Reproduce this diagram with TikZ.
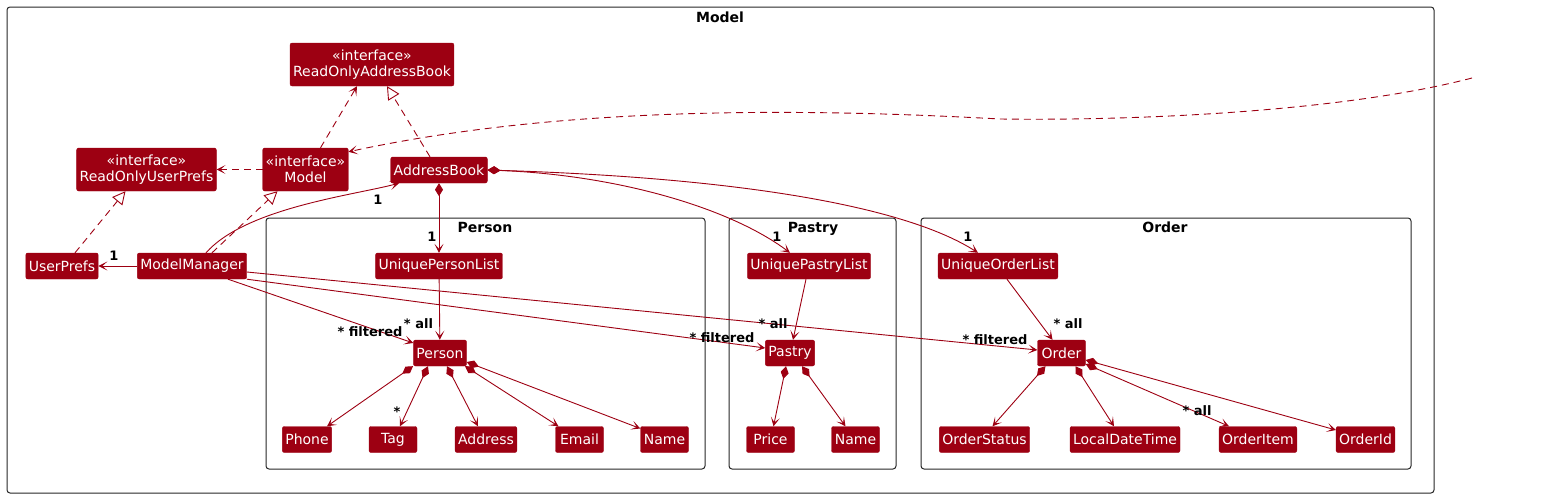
\documentclass[tikz,border=0pt]{standalone}
\usepackage{fontspec}
\setmainfont{DejaVu Sans}
\usetikzlibrary{arrows.meta}
\definecolor{modelred}{HTML}{9D0012}

\begin{document}
\begin{tikzpicture}[x=1pt,y=-1pt,>={Stealth[length=9pt,width=9pt,inset=5pt]},
    cls/.style={fill=modelred,draw=modelred,rounded corners=2pt,text=white,align=center,
        font=\fontsize{14}{16.5}\selectfont,inner xsep=3pt,inner ysep=0pt,minimum height=26pt,minimum width=48pt},
    iface/.style={cls,minimum height=43pt},
    pkg/.style={draw=black!85,rounded corners=3pt,line width=1pt},
    ttl/.style={font=\fontsize{14}{16}\selectfont\bfseries,anchor=base,inner sep=0pt},
    lbl/.style={font=\fontsize{13}{15}\selectfont\bfseries,anchor=base,inner sep=0pt},
    assoc/.style={draw=modelred,line width=0.9pt,->},
    comp/.style={assoc,{Diamond[length=13pt,width=8pt]}->},
    dep/.style={assoc,dash pattern=on 7pt off 5pt},
    real/.style={draw=modelred,line width=0.9pt,dash pattern=on 7pt off 5pt,-{Triangle[open,length=13pt,width=13pt,fill=white]}}]
    \useasboundingbox (0,0) rectangle (1567,498);

    % packages
    \draw[pkg] (7,7) rectangle (1434,493);
    \node[ttl] (tmodel) at (720,22.5) {Model};
    \draw[pkg] (266,218) rectangle (705,469);
    \node[ttl] (tperson) at (485,232) {Person};
    \draw[pkg] (729,218) rectangle (896,469);
    \node[ttl] (tpastry) at (813,232) {Pastry};
    \draw[pkg] (921,218) rectangle (1411,469);
    \node[ttl] (torder) at (1165,232) {Order};

    % classes
    \node[iface] (rouab) at (372,64.5) {«interface»\\ReadOnlyAddressBook};
    \node[iface] (roup) at (146.5,169.5) {«interface»\\ReadOnlyUserPrefs};
    \node[iface] (model) at (305.5,169.5) {«interface»\\Model};
    \node[cls] (ab) at (439,170) {AddressBook};
    \node[cls] (userprefs) at (62,266) {UserPrefs};
    \node[cls] (mm) at (192,266) {ModelManager};
    \node[cls] (upl) at (439,266) {UniquePersonList};
    \node[cls] (person) at (440,353) {Person};
    \node[cls] (uptl) at (809,266) {UniquePastryList};
    \node[cls] (pastry) at (790,353) {Pastry};
    \node[cls] (uol) at (998,266) {UniqueOrderList};
    \node[cls] (order) at (1061.5,353) {Order};
    \foreach \n/\x/\t in {phone/307/Phone,tag/393/Tag,address/486/Address,email/579.5/Email,
        pname/664.5/Name,price/770.5/Price,tname/855.5/Name,ostatus/984.5/OrderStatus,
        ldt/1125/LocalDateTime,oitem/1258/OrderItem,oid/1365.5/OrderId}{
        \node[cls] (\n) at (\x,439.5) {\t};
    }

    % interfaces
    \draw[dep] ([xshift=15pt]model.north) -- ([xshift=-15pt]rouab.south);
    \draw[real] ([xshift=-9pt]ab.north) -- ([xshift=15pt]rouab.south);
    \draw[dep] (model) -- (roup);
    \draw[real] ([xshift=13pt]userprefs.north) -- ([xshift=-21pt]roup.south);
    \draw[real] ([xshift=20pt]mm.north) -- ([xshift=-28pt]model.south);
    \coordinate (ext) at (1472,78);
    \draw[dep] (ext) .. controls (1350,110) and (1150,121) .. (1000,119)
        .. controls (800,108) and (560,106) .. ([yshift=-4pt]model.north east);

    % model manager
    \draw[assoc] (mm) -- (userprefs);
    \node[lbl] (m1) at (114,260.7) {1};
    \draw[assoc] ([xshift=14pt]mm.north) .. controls +(40,-45) and +(-45,12) .. ([xshift=-40pt]ab.south);
    \node[lbl] (m2) at (378,204) {1};
    \draw[assoc] ([xshift=36pt]mm.south) -- ([yshift=10pt]person.west);
    \node[lbl] (m3) at (370,336.7) {* filtered};
    \draw[assoc] (mm.south east) -- ([yshift=5pt]pastry.west);
    \node[lbl] (m4) at (722,342.7) {* filtered};
    \draw[assoc] ([yshift=-6pt]mm.east) -- ([yshift=3pt]order.west);
    \node[lbl] (m5) at (995,344) {* filtered};

    % address book
    \draw[comp] (ab) -- (upl);
    \node[lbl] (a1) at (432,241) {1};
    \draw[comp] (ab.east) .. controls +(130,5) and +(-60,-45) .. ([xshift=-19pt]uptl.north);
    \node[lbl] (a2) at (777,241) {1};
    \draw[comp] (ab.east) .. controls +(260,8) and +(-70,-45) .. ([xshift=-20pt]uol.north);
    \node[lbl] (a3) at (968,241) {1};

    % lists
    \draw[assoc] (upl) -- (person);
    \node[lbl] (l1) at (418.5,328) {* all};
    \draw[assoc] ([xshift=-3pt]uptl.south) -- ([xshift=3pt]pastry.north);
    \node[lbl] (l2) at (773,328) {* all};
    \draw[assoc] ([xshift=9pt]uol.south) -- ([xshift=-9pt]order.north);
    \node[lbl] (l3) at (1068,328) {* all};

    % fields
    \draw[comp] ([xshift=-27pt]person.south) -- ([xshift=20pt]phone.north);
    \draw[comp] ([xshift=-12pt]person.south) -- ([xshift=7pt]tag.north);
    \node[lbl] (f1) at (397,416) {*};
    \draw[comp] ([xshift=7pt]person.south) -- ([xshift=-8pt]address.north);
    \draw[comp] ([xshift=25pt]person.south) -- ([xshift=-21pt]email.north);
    \draw[comp] ([yshift=-9pt]person.east) -- ([yshift=11pt]pname.west);
    \draw[comp] ([xshift=-4pt]pastry.south) -- ([xshift=3pt]price.north);
    \draw[comp] ([xshift=12pt]pastry.south) -- ([xshift=-10pt]tname.north);
    \draw[comp] ([xshift=-16pt]order.south) -- ([xshift=8pt]ostatus.north);
    \draw[comp] ([xshift=14pt]order.south) -- ([xshift=-11pt]ldt.north);
    \draw[comp] ([yshift=-11pt]order.east) -- ([xshift=-29pt]oitem.north);
    \node[lbl] (f2) at (1197,415) {* all};
    \draw[comp] ([yshift=-7pt]order.east) -- ([yshift=9.5pt]oid.west);
\end{tikzpicture}
\end{document}
